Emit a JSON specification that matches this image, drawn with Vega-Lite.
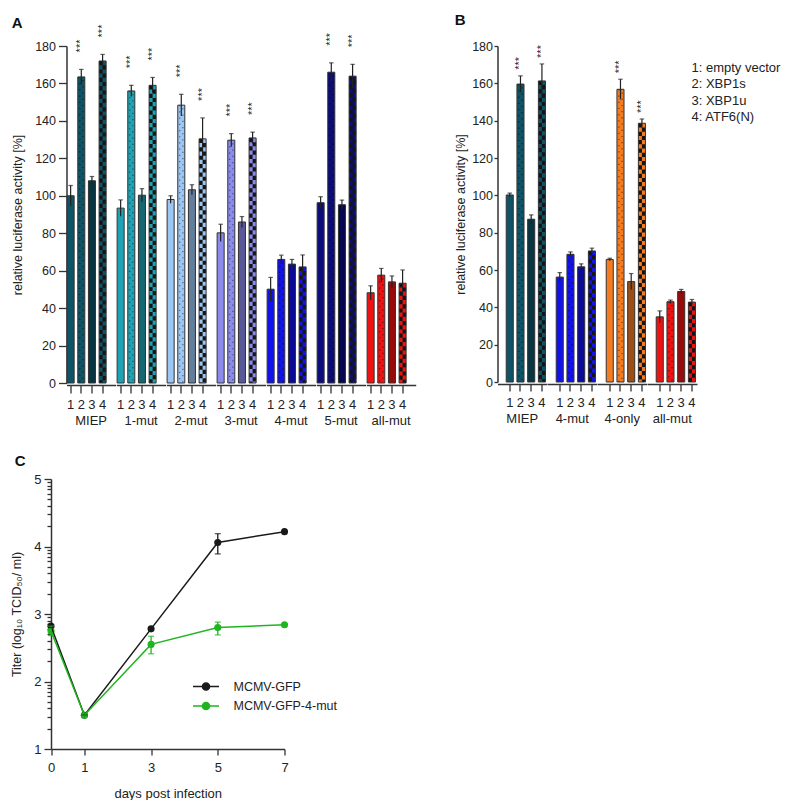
{
  "$schema": "https://vega.github.io/schema/vega-lite/v6.json",
  "padding": {"left": 10.5, "top": 13, "right": 0, "bottom": 0},
  "config": {
    "font": "Liberation Sans",
    "view": {"stroke": null},
    "axis": {"grid": false, "labelOverlap": false, "domainColor": "#333", "tickColor": "#333", "domainWidth": 1.5, "tickWidth": 1.3, "labelColor": "#222", "titleColor": "#222", "titleFontWeight": "normal", "labelFont": "Liberation Sans", "titleFont": "Liberation Sans"},
    "header": {"labelFont": "Liberation Sans", "labelColor": "#222"},
    "legend": {"labelFont": "Liberation Sans"}
  },
  "concat": [
    {
      "title": {"text": "A", "anchor": "start", "frame": "bounds", "fontSize": 15, "fontWeight": "bold", "color": "#111", "offset": -6},
      "data": {"values": [
        {"group": "MIEP", "bar": 1, "value": 100, "lo": 94.5, "hi": 105.5, "sig": ""},
        {"group": "MIEP", "bar": 2, "value": 163.5, "lo": 159.5, "hi": 167.5, "sig": "***"},
        {"group": "MIEP", "bar": 3, "value": 108, "lo": 105.7, "hi": 110.3, "sig": ""},
        {"group": "MIEP", "bar": 4, "value": 172, "lo": 168.5, "hi": 175.5, "sig": "***"},
        {"group": "1-mut", "bar": 1, "value": 93.4, "lo": 89, "hi": 97.8, "sig": ""},
        {"group": "1-mut", "bar": 2, "value": 156, "lo": 153, "hi": 159, "sig": "***"},
        {"group": "1-mut", "bar": 3, "value": 100.3, "lo": 96.8, "hi": 103.8, "sig": ""},
        {"group": "1-mut", "bar": 4, "value": 159, "lo": 155, "hi": 163.2, "sig": "***"},
        {"group": "2-mut", "bar": 1, "value": 98, "lo": 96, "hi": 100, "sig": ""},
        {"group": "2-mut", "bar": 2, "value": 148.4, "lo": 142.6, "hi": 154.2, "sig": "***"},
        {"group": "2-mut", "bar": 3, "value": 103.2, "lo": 100.5, "hi": 105.9, "sig": ""},
        {"group": "2-mut", "bar": 4, "value": 130.4, "lo": 119.2, "hi": 141.6, "sig": "***"},
        {"group": "3-mut", "bar": 1, "value": 80.2, "lo": 75.6, "hi": 84.8, "sig": ""},
        {"group": "3-mut", "bar": 2, "value": 129.7, "lo": 126.2, "hi": 133.2, "sig": "***"},
        {"group": "3-mut", "bar": 3, "value": 86, "lo": 83.1, "hi": 88.9, "sig": ""},
        {"group": "3-mut", "bar": 4, "value": 130.9, "lo": 127.8, "hi": 134, "sig": "***"},
        {"group": "4-mut", "bar": 1, "value": 50.1, "lo": 43.8, "hi": 56.4, "sig": ""},
        {"group": "4-mut", "bar": 2, "value": 66, "lo": 63.7, "hi": 68.3, "sig": ""},
        {"group": "4-mut", "bar": 3, "value": 63.5, "lo": 61, "hi": 66, "sig": ""},
        {"group": "4-mut", "bar": 4, "value": 62, "lo": 55.6, "hi": 68.4, "sig": ""},
        {"group": "5-mut", "bar": 1, "value": 96.3, "lo": 93.1, "hi": 99.5, "sig": ""},
        {"group": "5-mut", "bar": 2, "value": 166, "lo": 161, "hi": 171, "sig": "***"},
        {"group": "5-mut", "bar": 3, "value": 95.2, "lo": 92.7, "hi": 97.7, "sig": ""},
        {"group": "5-mut", "bar": 4, "value": 163.9, "lo": 157.6, "hi": 170.2, "sig": "***"},
        {"group": "all-mut", "bar": 1, "value": 48.2, "lo": 44.5, "hi": 51.9, "sig": ""},
        {"group": "all-mut", "bar": 2, "value": 57.6, "lo": 54, "hi": 61.2, "sig": ""},
        {"group": "all-mut", "bar": 3, "value": 54, "lo": 50.8, "hi": 57.2, "sig": ""},
        {"group": "all-mut", "bar": 4, "value": 53.3, "lo": 46.2, "hi": 60.4, "sig": ""}
      ]},
      "facet": {"column": {"field": "group", "type": "nominal", "sort": ["MIEP", "1-mut", "2-mut", "3-mut", "4-mut", "5-mut", "all-mut"], "title": null, "header": {"labelOrient": "bottom", "labelFontSize": 13, "labelPadding": 4}}},
      "spacing": 0,
      "spec": {
        "width": 49.2,
        "height": 337,
        "layer": [
          {"mark": {"type": "bar"}, "encoding": {
            "x": {"field": "bar", "type": "ordinal", "scale": {"paddingInner": 0.34, "paddingOuter": 0.478, "align": 0.06}, "axis": {"title": null, "labelAngle": 0, "tickSize": 8, "labelPadding": 5, "labelFontSize": 13}},
            "y": {"field": "value", "type": "quantitative", "scale": {"domain": [0, 180], "nice": false}, "axis": {"title": "relative luciferase activity [%]", "values": [0, 20, 40, 60, 80, 100, 120, 140, 160, 180], "tickCount": 10, "labelOverlap": false, "labelBound": false, "tickSize": 8, "labelPadding": 3, "titlePadding": 10, "labelFontSize": 12.5, "titleFontSize": 12.5}},
            "fill": {"field": "group", "type": "nominal", "scale": {"domain": ["MIEP", "1-mut", "2-mut", "3-mut", "4-mut", "5-mut", "all-mut", "4-only"], "range": ["#0e5366", "#1fa3b4", "#9cc6f3", "#8b8bef", "#1212ec", "#0c0c7c", "#ee1212", "#f57b20"]}, "legend": null}
          }},
          {"transform": [{"filter": "datum.bar == 2"}], "mark": {"type": "rule", "strokeWidth": 1.2, "strokeDash": [1.2, 5], "color": "#000", "opacity": 0.5, "xOffset": -1.6},
           "encoding": {"x": {"field": "bar", "type": "ordinal"}, "y": {"field": "value", "type": "quantitative"}, "y2": {"datum": 0}}},
          {"transform": [{"filter": "datum.bar == 2"}], "mark": {"type": "rule", "strokeWidth": 1.2, "strokeDash": [1.2, 5], "strokeDashOffset": 3, "color": "#000", "opacity": 0.5, "xOffset": 1.6},
           "encoding": {"x": {"field": "bar", "type": "ordinal"}, "y": {"field": "value", "type": "quantitative"}, "y2": {"datum": 0}}},
          {"transform": [{"filter": "datum.bar == 3"}], "mark": {"type": "bar", "fill": "#000", "opacity": 0.36},
           "encoding": {"x": {"field": "bar", "type": "ordinal"}, "y": {"field": "value", "type": "quantitative"}}},
          {"transform": [{"filter": "datum.bar == 4"}], "mark": {"type": "rule", "strokeWidth": 3.55, "strokeDash": [4.2, 4.2], "color": "#141414", "xOffset": -1.77},
           "encoding": {"x": {"field": "bar", "type": "ordinal"}, "y": {"field": "value", "type": "quantitative"}, "y2": {"datum": 0}}},
          {"transform": [{"filter": "datum.bar == 4"}], "mark": {"type": "rule", "strokeWidth": 3.55, "strokeDash": [4.2, 4.2], "strokeDashOffset": 4.2, "color": "#141414", "xOffset": 1.77},
           "encoding": {"x": {"field": "bar", "type": "ordinal"}, "y": {"field": "value", "type": "quantitative"}, "y2": {"datum": 0}}},
          {"mark": {"type": "bar", "fillOpacity": 0, "stroke": "#333", "strokeWidth": 1},
           "encoding": {"x": {"field": "bar", "type": "ordinal"}, "y": {"field": "value", "type": "quantitative"}}},
          {"mark": {"type": "rule", "color": "#222", "strokeWidth": 1.2},
           "encoding": {"x": {"field": "bar", "type": "ordinal"}, "y": {"field": "lo", "type": "quantitative"}, "y2": {"field": "hi"}}},
          {"mark": {"type": "tick", "orient": "horizontal", "size": 4.5, "thickness": 1.2, "color": "#222"},
           "encoding": {"x": {"field": "bar", "type": "ordinal"}, "y": {"field": "hi", "type": "quantitative"}}},
          {"transform": [{"filter": "datum.sig == '***'"}], "mark": {"type": "text", "angle": 270, "align": "left", "baseline": "middle", "dx": 17, "fontSize": 11, "color": "#222"},
           "encoding": {"x": {"field": "bar", "type": "ordinal"}, "y": {"field": "hi", "type": "quantitative"}, "text": {"field": "sig"}}}
        ]
      }
    },
    {
      "title": {"text": "B", "anchor": "start", "frame": "bounds", "fontSize": 15, "fontWeight": "bold", "color": "#111", "offset": 12},
      "data": {"values": [
        {"group": "MIEP", "bar": 1, "value": 100.2, "lo": 99.2, "hi": 101.2, "sig": "", "treatment": "1: empty vector"},
        {"group": "MIEP", "bar": 2, "value": 159.6, "lo": 155.2, "hi": 164, "sig": "***", "treatment": "2: XBP1s"},
        {"group": "MIEP", "bar": 3, "value": 87.2, "lo": 84.9, "hi": 89.5, "sig": "", "treatment": "3: XBP1u"},
        {"group": "MIEP", "bar": 4, "value": 161.3, "lo": 152.2, "hi": 170.4, "sig": "***", "treatment": "4: ATF6(N)"},
        {"group": "4-mut", "bar": 1, "value": 56.2, "lo": 53.8, "hi": 58.6, "sig": "", "treatment": "1: empty vector"},
        {"group": "4-mut", "bar": 2, "value": 68.4, "lo": 67.1, "hi": 69.7, "sig": "", "treatment": "2: XBP1s"},
        {"group": "4-mut", "bar": 3, "value": 61.7, "lo": 60.1, "hi": 63.3, "sig": "", "treatment": "3: XBP1u"},
        {"group": "4-mut", "bar": 4, "value": 70.2, "lo": 68.7, "hi": 71.7, "sig": "", "treatment": "4: ATF6(N)"},
        {"group": "4-only", "bar": 1, "value": 65.6, "lo": 64.9, "hi": 66.3, "sig": "", "treatment": "1: empty vector"},
        {"group": "4-only", "bar": 2, "value": 156.8, "lo": 151.4, "hi": 162.2, "sig": "***", "treatment": "2: XBP1s"},
        {"group": "4-only", "bar": 3, "value": 53.8, "lo": 49.5, "hi": 58.1, "sig": "", "treatment": "3: XBP1u"},
        {"group": "4-only", "bar": 4, "value": 138.6, "lo": 136.3, "hi": 140.9, "sig": "***", "treatment": "4: ATF6(N)"},
        {"group": "all-mut", "bar": 1, "value": 34.9, "lo": 31.7, "hi": 38.1, "sig": "", "treatment": "1: empty vector"},
        {"group": "all-mut", "bar": 2, "value": 43, "lo": 42.1, "hi": 43.9, "sig": "", "treatment": "2: XBP1s"},
        {"group": "all-mut", "bar": 3, "value": 48.5, "lo": 47.4, "hi": 49.6, "sig": "", "treatment": "3: XBP1u"},
        {"group": "all-mut", "bar": 4, "value": 42.8, "lo": 41.4, "hi": 44.2, "sig": "", "treatment": "4: ATF6(N)"}
      ]},
      "facet": {"column": {"field": "group", "type": "nominal", "sort": ["MIEP", "4-mut", "4-only", "all-mut"], "title": null, "header": {"labelOrient": "bottom", "labelFontSize": 13, "labelPadding": 4}}},
      "spacing": 0,
      "spec": {
        "width": 49.5,
        "height": 336,
        "layer": [
          {"mark": {"type": "bar"}, "encoding": {
            "x": {"field": "bar", "type": "ordinal", "scale": {"paddingInner": 0.34, "paddingOuter": 0.478, "align": 0.85}, "axis": {"title": null, "labelAngle": 0, "tickSize": 7, "labelPadding": 5, "labelFontSize": 13}},
            "y": {"field": "value", "type": "quantitative", "scale": {"domain": [0, 180], "nice": false}, "axis": {"title": "relative luciferase activity [%]", "values": [0, 20, 40, 60, 80, 100, 120, 140, 160, 180], "tickCount": 10, "labelOverlap": false, "labelBound": false, "tickSize": 3.5, "labelPadding": 1.5, "titlePadding": 4, "labelFontSize": 12.5, "titleFontSize": 12.5}},
            "fill": {"field": "group", "type": "nominal", "scale": {"domain": ["MIEP", "1-mut", "2-mut", "3-mut", "4-mut", "5-mut", "all-mut", "4-only"], "range": ["#0e5366", "#1fa3b4", "#9cc6f3", "#8b8bef", "#1212ec", "#0c0c7c", "#ee1212", "#f57b20"]}, "legend": null}
          }},
          {"transform": [{"filter": "datum.bar == 2"}], "mark": {"type": "rule", "strokeWidth": 1.2, "strokeDash": [1.2, 5], "color": "#000", "opacity": 0.5, "xOffset": -1.6},
           "encoding": {"x": {"field": "bar", "type": "ordinal"}, "y": {"field": "value", "type": "quantitative"}, "y2": {"datum": 0}}},
          {"transform": [{"filter": "datum.bar == 2"}], "mark": {"type": "rule", "strokeWidth": 1.2, "strokeDash": [1.2, 5], "strokeDashOffset": 3, "color": "#000", "opacity": 0.5, "xOffset": 1.6},
           "encoding": {"x": {"field": "bar", "type": "ordinal"}, "y": {"field": "value", "type": "quantitative"}, "y2": {"datum": 0}}},
          {"transform": [{"filter": "datum.bar == 3"}], "mark": {"type": "bar", "fill": "#000", "opacity": 0.36},
           "encoding": {"x": {"field": "bar", "type": "ordinal"}, "y": {"field": "value", "type": "quantitative"}}},
          {"transform": [{"filter": "datum.bar == 4"}], "mark": {"type": "rule", "strokeWidth": 3.55, "strokeDash": [4.2, 4.2], "color": "#141414", "xOffset": -1.77},
           "encoding": {"x": {"field": "bar", "type": "ordinal"}, "y": {"field": "value", "type": "quantitative"}, "y2": {"datum": 0}}},
          {"transform": [{"filter": "datum.bar == 4"}], "mark": {"type": "rule", "strokeWidth": 3.55, "strokeDash": [4.2, 4.2], "strokeDashOffset": 4.2, "color": "#141414", "xOffset": 1.77},
           "encoding": {"x": {"field": "bar", "type": "ordinal"}, "y": {"field": "value", "type": "quantitative"}, "y2": {"datum": 0}}},
          {"mark": {"type": "bar", "fillOpacity": 0, "stroke": "#333", "strokeWidth": 1},
           "encoding": {"x": {"field": "bar", "type": "ordinal"}, "y": {"field": "value", "type": "quantitative"}}},
          {"mark": {"type": "rule", "color": "#222", "strokeWidth": 1.2},
           "encoding": {"x": {"field": "bar", "type": "ordinal"}, "y": {"field": "lo", "type": "quantitative"}, "y2": {"field": "hi"}}},
          {"mark": {"type": "tick", "orient": "horizontal", "size": 4.5, "thickness": 1.2, "color": "#222"},
           "encoding": {"x": {"field": "bar", "type": "ordinal"}, "y": {"field": "hi", "type": "quantitative"}}},
          {"transform": [{"filter": "datum.sig == '***'"}], "mark": {"type": "text", "angle": 270, "align": "left", "baseline": "middle", "dx": 6, "fontSize": 11, "color": "#222"},
           "encoding": {"x": {"field": "bar", "type": "ordinal"}, "y": {"field": "hi", "type": "quantitative"}, "text": {"field": "sig"}}},
          {"mark": {"type": "point", "opacity": 0},
           "encoding": {"x": {"field": "bar", "type": "ordinal"}, "y": {"field": "value", "type": "quantitative"},
             "shape": {"field": "treatment", "type": "nominal", "legend": {"title": null, "orient": "none", "legendX": 181, "legendY": 15, "symbolOpacity": 0, "symbolSize": 1, "symbolStrokeWidth": 0, "labelFontSize": 13, "labelOffset": 0, "padding": 0, "rowPadding": 2.6, "labelColor": "#222", "labelLimit": 200}}}}
        ]
      }
    },
    {
      "title": {"text": "C", "anchor": "start", "frame": "bounds", "fontSize": 15, "fontWeight": "bold", "color": "#111", "offset": 4, "dx": 4},
      "width": 218,
      "height": 270,
      "data": {"values": [
        {"day": 0, "strain": "MCMV-GFP", "titer": 2.82, "lo": 2.8, "hi": 2.84},
        {"day": 1, "strain": "MCMV-GFP", "titer": 1.5, "lo": 1.5, "hi": 1.5},
        {"day": 3, "strain": "MCMV-GFP", "titer": 2.78, "lo": 2.76, "hi": 2.8},
        {"day": 5, "strain": "MCMV-GFP", "titer": 4.06, "lo": 3.89, "hi": 4.19},
        {"day": 7, "strain": "MCMV-GFP", "titer": 4.22, "lo": 4.21, "hi": 4.23},
        {"day": 0, "strain": "MCMV-GFP-4-mut", "titer": 2.75, "lo": 2.68, "hi": 2.82},
        {"day": 1, "strain": "MCMV-GFP-4-mut", "titer": 1.5, "lo": 1.5, "hi": 1.5},
        {"day": 3, "strain": "MCMV-GFP-4-mut", "titer": 2.55, "lo": 2.41, "hi": 2.67},
        {"day": 5, "strain": "MCMV-GFP-4-mut", "titer": 2.8, "lo": 2.69, "hi": 2.88},
        {"day": 7, "strain": "MCMV-GFP-4-mut", "titer": 2.84, "lo": 2.83, "hi": 2.85}
      ]},
      "layer": [
        {"mark": {"type": "point", "filled": true, "size": 50, "opacity": 1},
         "encoding": {
           "x": {"field": "day", "type": "quantitative", "scale": {"domain": [0, 7], "nice": false, "range": [-15.5, 218]}, "axis": {"values": [0, 1, 3, 5, 7], "title": "days post infection", "tickSize": 6, "labelPadding": 6, "titlePadding": 13, "labelFontSize": 13, "titleFontSize": 13, "labelFlush": false}},
           "y": {"field": "titer", "type": "quantitative", "scale": {"domain": [1, 5], "nice": false, "zero": false}, "axis": {"orient": "left", "offset": 15.5, "values": [1, 2, 3, 4, 5], "title": "Titer (log₁₀ TCID₅₀/ ml)", "tickSize": 7, "labelPadding": 3, "titlePadding": 10, "labelFontSize": 13, "titleFontSize": 12.5}},
           "color": {"field": "strain", "type": "nominal", "scale": {"domain": ["MCMV-GFP", "MCMV-GFP-4-mut"], "range": ["#1a1a1a", "#1fb51f"]},
             "legend": {"title": null, "orient": "none", "legendX": 132, "legendY": 200, "symbolType": "M-2,0H2M-0.55,0a0.55,0.55 0 1,1 1.1,0a0.55,0.55 0 1,1 -1.1,0", "symbolSize": 169, "symbolStrokeWidth": 1.5, "labelFontSize": 12.5, "labelOffset": 20, "rowPadding": 4.5, "padding": 0, "labelColor": "#222"}}
         }},
        {"mark": {"type": "line", "strokeWidth": 1.5},
         "encoding": {
           "x": {"field": "day", "type": "quantitative"},
           "y": {"field": "titer", "type": "quantitative", "axis": {"orient": "left", "offset": 15.5, "values": [1.301, 1.477, 1.602, 1.699, 1.778, 1.845, 1.903, 1.954, 2.301, 2.477, 2.602, 2.699, 2.778, 2.845, 2.903, 2.954, 3.301, 3.477, 3.602, 3.699, 3.778, 3.845, 3.903, 3.954, 4.301, 4.477, 4.602, 4.699, 4.778, 4.845, 4.903, 4.954], "labels": false, "domain": false, "tickSize": 4, "title": null}},
           "color": {"field": "strain", "type": "nominal"}
         }},
        {"mark": {"type": "rule", "strokeWidth": 1.3},
         "encoding": {"x": {"field": "day", "type": "quantitative"}, "y": {"field": "lo", "type": "quantitative", "axis": null}, "y2": {"field": "hi"}, "color": {"field": "strain", "type": "nominal"}}},
        {"mark": {"type": "tick", "orient": "horizontal", "size": 6, "thickness": 1.3},
         "encoding": {"x": {"field": "day", "type": "quantitative"}, "y": {"field": "hi", "type": "quantitative", "axis": null}, "color": {"field": "strain", "type": "nominal"}}},
        {"mark": {"type": "tick", "orient": "horizontal", "size": 6, "thickness": 1.3},
         "encoding": {"x": {"field": "day", "type": "quantitative"}, "y": {"field": "lo", "type": "quantitative", "axis": null}, "color": {"field": "strain", "type": "nominal"}}}
      ],
      "resolve": {"axis": {"y": "independent"}}
    }
  ],
  "columns": 2,
  "align": "none",
  "spacing": {"row": 26, "column": 38},
  "resolve": {"scale": {"shape": "independent", "color": "independent"}, "legend": {"shape": "independent", "color": "independent"}}
}
